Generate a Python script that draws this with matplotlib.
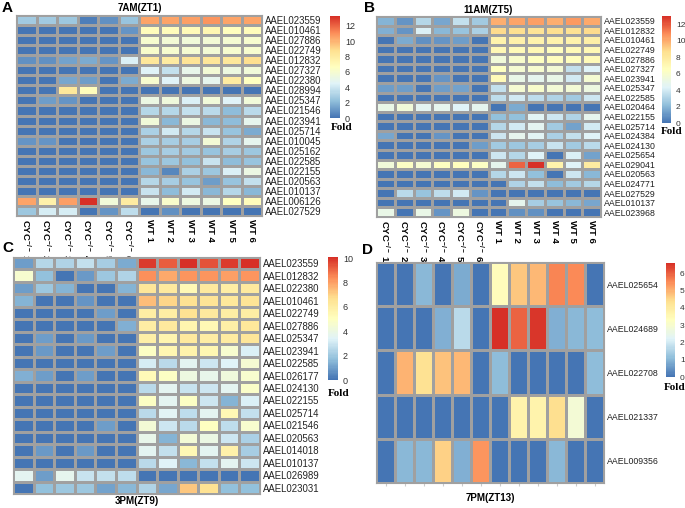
import numpy as np
import matplotlib.pyplot as plt
import matplotlib as mpl
from matplotlib.colors import LinearSegmentedColormap, Normalize

# ---------- data (fold change) ----------
samples = ["CYC$^{-/-}$ 1", "CYC$^{-/-}$ 2", "CYC$^{-/-}$ 3", "CYC$^{-/-}$ 4",
           "CYC$^{-/-}$ 5", "CYC$^{-/-}$ 6", "WT 1", "WT 2", "WT 3", "WT 4", "WT 5", "WT 6"]

a_genes = ["AAEL023559", "AAEL010461", "AAEL027886", "AAEL022749", "AAEL012832",
           "AAEL027327", "AAEL022380", "AAEL028994", "AAEL025347", "AAEL021546",
           "AAEL023941", "AAEL025714", "AAEL010045", "AAEL025162", "AAEL022585",
           "AAEL022155", "AAEL020563", "AAEL010137", "AAEL006126", "AAEL027529"]
a_vals = [
    [2.7, 2.7, 2.6, 0.3, 0.9, 2.5, 10.4, 10.4, 10.6, 10.9, 10.5, 10.4],
    [0, 0, 0, 0, 0, 1.0, 6.9, 6.8, 7.0, 7.2, 6.7, 6.8],
    [0, 0, 0, 0, 0, 0, 6.0, 5.8, 5.7, 5.8, 5.9, 6.0],
    [0, 0, 0, 0, 0, 0, 6.2, 6.0, 5.9, 5.8, 6.0, 6.0],
    [0.9, 0.9, 1.4, 1.6, 1.0, 4.3, 8.3, 8.1, 8.6, 8.5, 8.3, 8.9],
    [0, 0, 0, 0, 0, 0, 4.5, 3.6, 5.0, 5.8, 5.4, 5.6],
    [0, 0, 1.5, 1.2, 0, 1.6, 6.0, 4.4, 5.4, 4.8, 8.0, 6.6],
    [0, 0, 8.3, 6.9, 0, 0, 0, 0, 0, 0, 0, 0],
    [0, 1.3, 1.0, 0, 0, 0, 5.3, 5.5, 4.3, 5.6, 4.4, 5.7],
    [0, 0, 0, 0, 0, 0, 3.3, 3.2, 3.6, 3.4, 2.2, 3.4],
    [0, 0, 0, 0, 0, 0, 5.6, 2.1, 5.3, 2.0, 2.2, 4.9],
    [0, 0, 0, 0, 0, 0, 3.0, 4.0, 3.3, 3.8, 2.5, 1.6],
    [1.0, 1.0, 0, 0, 0, 0, 3.0, 2.8, 2.9, 5.8, 3.1, 4.8],
    [0, 0, 0, 0, 0, 0, 2.6, 2.8, 2.7, 2.5, 2.9, 2.6],
    [0, 0, 0, 0, 0, 0, 2.5, 2.6, 2.3, 3.8, 2.2, 2.4],
    [0, 0, 0, 0, 0, 0, 2.0, 0.6, 3.0, 2.6, 4.3, 5.2],
    [0, 0, 0, 0, 0, 0, 3.3, 2.8, 2.4, 1.2, 2.5, 3.6],
    [0, 0, 0, 0, 0, 0, 3.8, 2.2, 4.0, 2.0, 3.2, 2.1],
    [10.4, 7.6, 10.6, 13.3, 5.6, 8.0, 5.0, 6.2, 5.4, 5.3, 6.6, 6.8],
    [2.6, 4.2, 4.2, 0, 1.0, 3.5, 0, 0.8, 0, 0, 0, 0],
]

b_genes = ["AAEL023559", "AAEL012832", "AAEL010461", "AAEL022749", "AAEL027886",
           "AAEL027327", "AAEL023941", "AAEL025347", "AAEL022585", "AAEL020464",
           "AAEL022155", "AAEL025714", "AAEL024384", "AAEL024130", "AAEL025654",
           "AAEL029041", "AAEL020563", "AAEL024771", "AAEL027529", "AAEL010137",
           "AAEL023968"]
b_vals = [
    [1.9, 1.0, 3.2, 1.5, 3.6, 2.7, 10.0, 10.2, 10.3, 10.0, 10.4, 10.1],
    [1.7, 1.0, 4.2, 2.0, 2.4, 2.9, 8.8, 8.6, 8.4, 8.6, 8.5, 8.8],
    [0, 1.6, 0.8, 1.0, 1.2, 0, 7.3, 7.5, 7.4, 7.3, 7.4, 7.6],
    [0, 0, 0, 0, 0, 0, 7.0, 6.8, 6.9, 6.6, 6.8, 7.0],
    [0, 0, 0, 0, 0, 0, 5.5, 6.0, 6.4, 6.5, 6.5, 6.8],
    [0, 0, 0, 0, 0, 0, 6.4, 5.8, 5.9, 5.6, 3.6, 4.3],
    [0, 0, 0, 1.0, 0, 0, 6.8, 5.0, 4.7, 5.0, 4.0, 5.8],
    [1.2, 1.2, 0, 1.2, 1.3, 0, 3.6, 5.8, 6.0, 5.6, 5.6, 5.2],
    [0, 0, 0, 0, 0, 0, 3.4, 4.0, 3.5, 3.0, 2.6, 3.8],
    [5.0, 5.5, 4.6, 4.8, 4.4, 4.8, 0, 1.6, 0, 0, 0, 0],
    [0, 0, 0, 0, 0, 0, 2.3, 2.3, 4.5, 3.8, 3.0, 4.8],
    [0, 0, 0, 0, 0, 0, 3.2, 4.0, 4.6, 2.6, 1.3, 4.0],
    [1.5, 0, 0, 1.0, 0, 0, 3.8, 4.7, 4.5, 2.9, 3.6, 4.4],
    [0, 0, 0, 0, 0, 1.2, 2.7, 2.5, 2.8, 3.7, 2.6, 3.3],
    [0, 0, 0, 0, 0, 0, 3.8, 3.2, 4.3, 0, 4.2, 1.4],
    [5.5, 6.3, 5.8, 6.4, 6.5, 6.3, 4.8, 11.8, 13.0, 7.4, 4.3, 7.8],
    [0, 0, 0, 0, 0, 0, 3.2, 3.8, 2.3, 0, 3.8, 2.0],
    [0, 0, 0, 0, 0, 0, 0, 3.0, 3.6, 2.2, 2.6, 3.2],
    [0, 3.3, 2.4, 3.4, 4.0, 1.0, 0, 0, 0, 0, 0, 0],
    [0, 0, 0, 0, 0, 0, 0, 4.8, 2.8, 2.4, 2.0, 1.5],
    [5.0, 0, 5.0, 1.0, 5.2, 0, 0, 0.9, 0.8, 0, 0, 0],
]

c_genes = ["AAEL023559", "AAEL012832", "AAEL022380", "AAEL010461", "AAEL022749",
           "AAEL027886", "AAEL025347", "AAEL023941", "AAEL022585", "AAEL026177",
           "AAEL024130", "AAEL022155", "AAEL025714", "AAEL021546", "AAEL020563",
           "AAEL014018", "AAEL010137", "AAEL026989", "AAEL023031"]
c_vals = [
    [1.0, 2.5, 2.4, 2.8, 2.2, 1.3, 9.8, 9.2, 10.1, 9.4, 9.8, 10.0],
    [4.6, 1.8, 0, 0.9, 2.0, 2.4, 8.3, 7.8, 8.2, 8.2, 8.0, 8.2],
    [1.0, 2.0, 1.5, 0, 0, 1.5, 6.4, 6.2, 5.4, 6.2, 6.0, 6.2],
    [1.5, 0, 0, 0.8, 0, 0, 7.4, 6.9, 6.6, 6.5, 6.3, 6.5],
    [0, 0, 0, 0, 1.0, 0, 6.0, 6.0, 6.6, 6.2, 6.0, 6.0],
    [0, 0, 0, 0, 0, 1.4, 6.0, 6.2, 5.6, 5.4, 5.9, 6.3],
    [0, 1.0, 0, 0.9, 0, 0, 5.9, 5.6, 6.2, 6.0, 6.1, 6.4],
    [0, 0.9, 0, 0, 1.0, 0, 4.9, 5.5, 5.7, 5.5, 4.6, 3.3],
    [0, 0, 0, 0, 0, 0, 3.2, 2.6, 3.6, 3.0, 3.4, 4.5],
    [1.4, 1.0, 0, 1.0, 0, 0, 5.3, 4.9, 4.1, 3.8, 4.2, 4.6],
    [0, 0, 0, 0, 0, 0, 2.6, 3.6, 2.9, 3.0, 3.6, 4.8],
    [0, 0, 0, 0, 0, 0, 4.9, 3.6, 4.9, 3.0, 1.5, 3.3],
    [0, 0, 0, 0, 0, 0, 2.6, 3.5, 2.7, 3.6, 5.4, 2.8],
    [0, 0, 0, 0, 1.0, 0, 4.4, 3.0, 2.6, 5.0, 2.7, 4.6],
    [0, 0, 0, 0, 0, 0, 3.8, 1.5, 4.4, 4.0, 3.0, 2.3],
    [0, 0.9, 0, 0.9, 0, 0, 3.6, 2.8, 5.4, 3.6, 5.8, 2.2],
    [0, 0, 0, 0, 0, 0, 2.6, 3.4, 1.6, 2.8, 3.6, 3.0],
    [3.6, 1.0, 3.7, 2.9, 2.8, 2.7, 0, 0, 0, 0, 0, 0],
    [0, 1.8, 2.0, 2.0, 1.1, 1.6, 2.4, 1.2, 7.2, 6.6, 1.8, 1.8],
]

d_genes = ["AAEL025654", "AAEL024689", "AAEL022708", "AAEL021337", "AAEL009356"]
d_vals = [
    [0, 0, 1.0, 0, 0.8, 0, 3.4, 4.7, 4.9, 5.6, 5.5, 0],
    [0, 0, 0, 0.9, 1.7, 0, 6.6, 6.0, 6.5, 0.9, 1.0, 1.1],
    [0, 5.0, 4.3, 4.8, 4.9, 0, 1.1, 0, 0, 0, 0, 1.1],
    [0, 0, 0, 0, 0, 0, 0, 3.7, 3.7, 4.4, 2.9, 0],
    [0, 1.0, 1.0, 4.6, 0.9, 5.4, 0, 0, 0, 1.0, 0, 0],
]

# ---------- style ----------
plt.rcParams["font.family"] = ["Liberation Sans", "DejaVu Sans"]
plt.rcParams["mathtext.fontset"] = "custom"
plt.rcParams["mathtext.rm"] = "Liberation Sans:bold"
plt.rcParams["mathtext.it"] = "Liberation Sans:bold"
plt.rcParams["mathtext.bf"] = "Liberation Sans:bold"

cmap = LinearSegmentedColormap.from_list(
    "rdylbu", ["#4575B4", "#91BFDB", "#E0F3F8", "#FFFFBF", "#FEE090", "#FC8D59", "#D73027"], N=100)
GRID = "#a0a0a0"
W, H = 685, 508

fig = plt.figure(figsize=(W / 100, H / 100), dpi=100)


def box(x0, y0, x1, y1):
    return [x0 / W, 1 - y1 / H, (x1 - x0) / W, (y1 - y0) / H]


def heat(rect, genes, vals, fs, xlabels=False, dticks=False):
    data = np.array(vals, dtype=float)
    ax = fig.add_axes(box(*rect))
    ax.pcolormesh(data, cmap=cmap, vmin=0, vmax=data.max(),
                  edgecolors=GRID, linewidth=0.8)
    ax.set_xlim(0, data.shape[1])
    ax.set_ylim(data.shape[0], 0)
    ax.yaxis.tick_right()
    ax.set_yticks(np.arange(len(genes)) + 0.5)
    ax.set_yticklabels(genes, fontsize=fs, color="#222222")
    ax.tick_params(axis="y", length=0, pad=2.5)
    ax.set_xticks(np.arange(len(samples)) + 0.5)
    if xlabels:
        ax.set_xticklabels(samples, rotation=-90, fontsize=6.8, fontweight="bold",
                           va="top", ha="center")
        ax.tick_params(axis="x", length=0, pad=2)
    elif dticks:
        ax.set_xticklabels([])
        ax.tick_params(axis="x", length=2, color="#cccccc")
    else:
        ax.set_xticklabels([])
        ax.tick_params(axis="x", length=0)
    for s in ax.spines.values():
        s.set_color(GRID)
        s.set_linewidth(0.8)
    return data.max()


def cbar(rect, vmax, ticks, fold_x, fold_y, tfs=6.5):
    cax = fig.add_axes(box(*rect))
    cb = fig.colorbar(mpl.cm.ScalarMappable(norm=Normalize(0, vmax), cmap=cmap), cax=cax)
    cb.outline.set_visible(False)
    cb.set_ticks(ticks)
    cax.tick_params(length=0, pad=3.5, labelsize=tfs, labelcolor="#333333")
    fig.text(fold_x / W, 1 - fold_y / H, "Fold", fontsize=8, fontweight="bold",
             family="Liberation Serif", va="center", ha="left")


# Panel A
m = heat((16, 15, 262, 216), a_genes, a_vals, 6.9, xlabels=True)
cbar((330, 16, 340, 118), m, range(0, 13, 2), 331, 127)
fig.text(139.5 / W, 1 - 8 / H, "7AM(ZT1)", fontsize=7, fontweight="bold", ha="center", va="center")
fig.text(2 / W, 1 - 8 / H, "A", fontsize=11, fontweight="bold", va="center")

# Panel B
m = heat((376, 16, 601, 217), b_genes, b_vals, 6.35, xlabels=True)
cbar((662, 16, 671, 123), m, range(0, 13, 2), 661, 132, tfs=6)
fig.text(488 / W, 1 - 10 / H, "11AM(ZT5)", fontsize=7, fontweight="bold", ha="center", va="center")
fig.text(364 / W, 1 - 8 / H, "B", fontsize=11, fontweight="bold", va="center")

# Panel C
m = heat((13, 257, 260, 494), c_genes, c_vals, 6.9)
cbar((328, 257, 338, 380), m, range(0, 11, 2), 328, 393)
fig.text(136.5 / W, 1 - 501 / H, "3PM(ZT9)", fontsize=7, fontweight="bold", ha="center", va="center")
fig.text(2 / W, 1 - 248 / H, "C", fontsize=11, fontweight="bold", va="center")

# Panel D
m = heat((376, 262, 604, 483), d_genes, d_vals, 6.35, dticks=True)
cbar((666, 263, 675, 377), m, range(0, 7), 664, 387, tfs=6)
fig.text(490 / W, 1 - 498 / H, "7PM(ZT13)", fontsize=7, fontweight="bold", ha="center", va="center")
fig.text(362 / W, 1 - 250 / H, "D", fontsize=11, fontweight="bold", va="center")

fig.savefig("out.png", dpi=100, facecolor="white")
